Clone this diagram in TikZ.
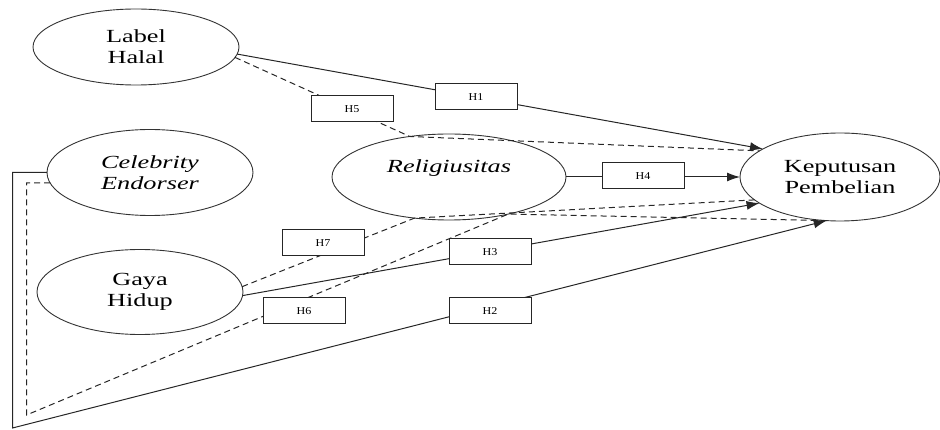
\documentclass[tikz,border=0pt]{standalone}
\usepackage{fontspec}
\setmainfont{Liberation Serif}
\newfontfamily\widefont[FakeStretch=1.42]{Liberation Serif}
\newfontfamily\hfont[FakeStretch=1.15]{Liberation Serif}
\usetikzlibrary{shapes.geometric,arrows.meta}
\begin{document}
\begin{tikzpicture}[x=1pt,y=-1pt,
  var/.style={draw=black!80, line width=0.9pt, ellipse, inner sep=0pt, outer sep=0pt, align=center, font=\widefont\fontsize{18.5}{21}\selectfont},
  ivar/.style={var, font=\widefont\fontsize{18.5}{21}\selectfont\itshape},
  hbox/.style={draw=black!85, fill=white, line width=1pt, minimum width=82pt, minimum height=26pt, inner sep=0pt, font=\hfont\fontsize{10.5}{12}\selectfont},
  conn/.style={line width=1pt, draw=black!85},
  dconn/.style={conn, dash pattern=on 6pt off 4pt},
  arr/.style={-{Latex[length=13pt,width=9pt]}}
]
\useasboundingbox (0,0) rectangle (940,430);
% variables
\node[var, minimum width=206pt, minimum height=76pt] (lh) at (136,47) {Label\\Halal};
\node[ivar, minimum width=206pt, minimum height=86pt] (ce) at (150,172.5) {Celebrity\\Endorser};
\node[var, minimum width=206pt, minimum height=85pt] (gh) at (140,292) {Gaya\\Hidup};
\node[ivar, minimum width=234pt, minimum height=86pt] (rel) at (449,177) {Religiusitas\\\mbox{}};
\node[var, minimum width=200pt, minimum height=88pt] (kp) at (840,177) {Keputusan\\Pembelian};
% bend points
\coordinate (c1) at (12.5,428);
\coordinate (d1) at (26.5,415);
% connectors
\draw[conn,arr] (lh.-4) -- (kp.160);
\draw[dconn] (lh.-6) -- (rel.134) -- (kp.162);
\draw[conn,arr] (rel.east) -- (kp.west);
\draw[dconn] (gh.3) -- (rel.230) -- (kp.195);
\draw[conn,arr] (gh.-2) -- (kp.198);
\draw[dconn] (ce.186) -| (d1) -- (rel.-32) -- (kp.253);
\draw[conn,arr] (ce.west) -| (c1) -- (kp.253);
% hypothesis boxes
\node[hbox] (h1) at (476,97) {H1};
\node[hbox] (h5) at (352,109) {H5};
\node[hbox] (h4) at (643,176) {H4};
\node[hbox] (h7) at (323,243) {H7};
\node[hbox] (h3) at (490,252) {H3};
\node[hbox] (h6) at (304,311) {H6};
\node[hbox] (h2) at (490,311) {H2};
\end{tikzpicture}
\end{document}
